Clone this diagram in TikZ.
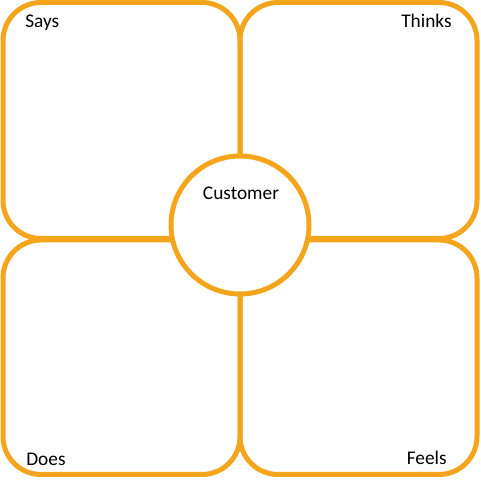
\documentclass[tikz,border=0pt]{standalone}
\usepackage{fontspec}
\setmainfont{Carlito}
\usetikzlibrary{positioning}
\definecolor{maporange}{RGB}{245, 165, 28}

\begin{document}
\begin{tikzpicture}[
      x=0.02cm, y=0.02cm,
      quad/.style={rectangle, rounded corners=0.76cm, draw=maporange, line width=5*0.02cm, inner sep=0, minimum width=237*0.02cm, minimum height=236*0.02cm},
      hub/.style={circle, draw=maporange, fill=white, line width=5*0.02cm, inner sep=0, minimum size=138*0.02cm},
      lbl/.style={inner sep=0, font=\fontsize{11}{13}\selectfont}
    ]
      \useasboundingbox (0,0) rectangle (480,483);

      \node[quad] (says) at (121.5,362.5) {};
      \node[quad] (thinks) at (358.5,362.5) {};
      \node[quad, minimum height=234.5*0.02cm] (does) at (121.5,125.75) {};
      \node[quad, minimum height=234.5*0.02cm] (feels) at (358.5,125.75) {};

      \node[hub] (cust) at (240,258) {};

      \node[lbl, anchor=base west] (sayslbl) at (25,455) {Says};
      \node[lbl, anchor=base east] (thinkslbl) at (452,455) {Thinks};
      \node[lbl, anchor=base west] (doeslbl) at (26,17) {Does};
      \node[lbl, anchor=base east] (feelslbl) at (447,18) {Feels};
      \node[lbl, anchor=base] (custlbl) at (241,283) {Customer};
    \end{tikzpicture}
\end{document}
